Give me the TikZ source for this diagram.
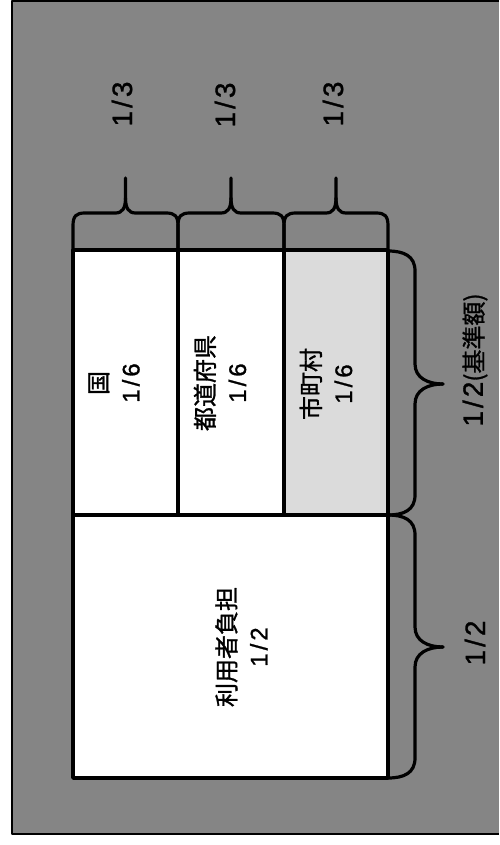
\documentclass[tikz,border=0pt]{standalone}
\usepackage{fontspec}
\setmainfont{Liberation Sans}[FakeBold=1.2]
\newfontfamily\cjk{Noto Sans CJK JP}[FakeBold=1.2]
\definecolor{bgray}{gray}{0.52}
\definecolor{lgray}{gray}{0.86}
\newcommand{\fr}[2]{#1\kern3pt/\kern3pt#2}
\begin{document}
\begin{tikzpicture}[x=1pt,y=-1pt,line join=round]
\tikzset{
  cell/.style={draw,line width=3.6pt,fill=white,inner sep=0pt},
  lab/.style={font=\fontsize{24}{32}\selectfont,align=center,inner sep=0pt,rotate=90},
  fraclab/.style={font=\fontsize{28}{30}\selectfont,inner sep=0pt,rotate=90},
  brace/.style={draw,line width=3.2pt,line cap=round}
}
\useasboundingbox (0,0) rectangle (499,845);
\fill[white] (0,0) rectangle (499,845);
\fill[bgray] (12,1) rectangle (499,834);
\draw[line width=2.4pt] (499,1) -- (12,1) -- (12,834) -- (499,834);
% cells
\node[cell,minimum width=105pt,minimum height=265pt] (kuni) at (125.5,382.5) {};
\node[cell,minimum width=106pt,minimum height=265pt] (todo) at (231,382.5) {};
\node[cell,fill=lgray,minimum width=104pt,minimum height=265pt] (shi) at (336,382.5) {};
\node[cell,minimum width=315pt,minimum height=263pt] (riyo) at (230.5,646.5) {};
% cell texts
\node[lab] (tkuni) at (114,383) {{\cjk 国}\\\fr{1}{6}};
\node[lab] (ttodo) at (220,383) {{\cjk 都道府県}\\\fr{1}{6}};
\node[lab] (tshi) at (326,384) {{\cjk 市町村}\\\fr{1}{6}};
\node[lab] (triyo) at (241.5,647) {{\cjk 利用者負担}\\\fr{1}{2}};
% top braces
\foreach \a/\b [evaluate=\a as \m using (\a+\b)/2] in {73/178,178/284,284/388}{
  \draw[brace] (\a,250) -- (\a,226) .. controls (\a,216) and (\a+3,213) .. (\a+12,213)
    -- (\m-10,213) .. controls (\m-3,213) and (\m,208) .. (\m,198) -- (\m,178);
  \draw[brace] (\m,198) .. controls (\m,208) and (\m+3,213) .. (\m+10,213)
    -- (\b-12,213) .. controls (\b-3,213) and (\b,216) .. (\b,226) -- (\b,250);
}
% right braces
\foreach \a/\b/\m in {251/515/384,515/778/647}{
  \draw[brace] (388,\a) .. controls (404,\a) and (415,\a+5) .. (415,\a+20)
    -- (415,\m-20) .. controls (415,\m-6) and (428,\m) .. (443,\m);
  \draw[brace] (443,\m) .. controls (428,\m) and (415,\m+6) .. (415,\m+20)
    -- (415,\b-20) .. controls (415,\b-5) and (404,\b) .. (388,\b);
}
% fraction labels
\node[fraclab] (f1) at (122,104) {\fr{1}{3}};
\node[fraclab] (f2) at (225,105) {\fr{1}{3}};
\node[fraclab] (f3) at (333,104) {\fr{1}{3}};
\node[fraclab] (r1) at (475,360) {\fr{1}{2}{\cjk\fontsize{24}{26}\selectfont (基準額)}};
\node[fraclab] (r2) at (475,643) {\fr{1}{2}};
\end{tikzpicture}
\end{document}
